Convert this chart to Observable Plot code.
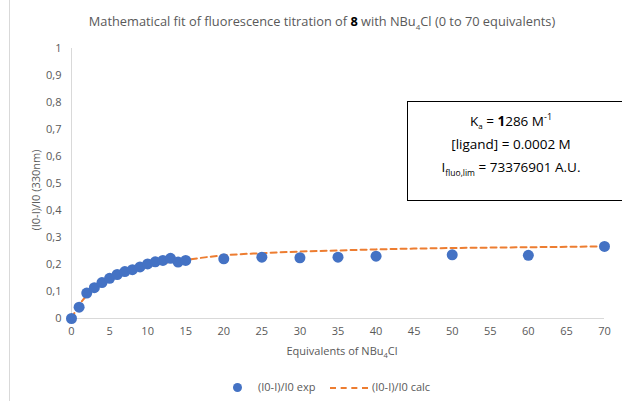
<!DOCTYPE html>
<html><head><meta charset="utf-8">
<script src="https://cdn.jsdelivr.net/npm/d3@7"></script>
<script src="https://cdn.jsdelivr.net/npm/@observablehq/plot@0.6"></script>
<style>
body{margin:0;background:#fff;font-family:"Open Sans",sans-serif;}
#wrap{position:relative;width:622px;height:401px;overflow:hidden;}
.t{position:absolute;color:#595959;white-space:nowrap;}
</style></head><body>
<div id="wrap"></div>
<script>
const equivalents = [0,1,2,3,4,5,6,7,8,9,10,11,12,13,14,15,20,25,30,35,40,50,60,70];
const expValues   = [0,0.042,0.094,0.114,0.133,0.149,0.163,0.174,0.181,0.191,0.202,0.21,0.215,0.223,0.209,0.215,0.221,0.227,0.225,0.227,0.231,0.236,0.234,0.267];
const calcValues  = [0,0.05,0.085,0.11,0.13,0.146,0.158,0.169,0.178,0.186,0.193,0.199,0.204,0.209,0.213,0.217,0.234,0.242,0.248,0.252,0.256,0.261,0.264,0.267];
const xTicks = d3.range(0, 71, 5);
const yTicks = [0,0.1,0.2,0.3,0.4,0.5,0.6,0.7,0.8,0.9,1];

const rows = equivalents.map((x,i)=>({x, exp: expValues[i], calc: calcValues[i]}));
const fmtY = d => (d===0||d===1) ? String(d) : d.toFixed(1).replace(".", ",");

const chart = Plot.plot({
  width: 622, height: 401,
  marginLeft: 71, marginRight: 18, marginTop: 48, marginBottom: 83,
  style: {fontFamily: '"Open Sans",sans-serif', fontSize: "11px", color: "#595959", background: "transparent"},
  x: {domain: [0,70], ticks: xTicks, tickSize: 0, tickPadding: 9, label: null},
  y: {domain: [0,1], ticks: yTicks, tickSize: 0, tickPadding: 10, tickFormat: fmtY, label: null},
  marks: [
    Plot.ruleY([0], {stroke: "#D9D9D9", strokeWidth: 1}),
    Plot.ruleX([0], {stroke: "#D9D9D9", strokeWidth: 1}),
    Plot.line(rows, {x: "x", y: "calc", stroke: "#ED7D31", strokeWidth: 2, strokeDasharray: "6,4", curve: "monotone-x"}),
    Plot.dot(rows, {x: "x", y: "exp", r: 5.5, fill: "#4472C4", stroke: "none"})
  ]
});
chart.style.position = "absolute";
chart.style.left = "0px";
chart.style.top = "0px";
const wrap = document.getElementById("wrap");
wrap.appendChild(chart);

const html = `
<div style="position:absolute;left:9px;top:0;width:1px;height:401px;background:#D9D9D9"></div>
<div class="t" style="left:0;width:644px;top:12px;text-align:center;font-size:12.8px;">Mathematical fit of fluorescence titration of <b style="color:#000">8</b> with NBu<sub style="font-size:8px">4</sub>Cl (0 to 70 equivalents)</div>
<div class="t" style="left:35px;top:190px;font-size:11px;transform:translate(-50%,-50%) rotate(-90deg);">(I0-I)/I0 (330nm)</div>
<div class="t" style="left:0;width:684px;top:343px;text-align:center;font-size:11px;">Equivalents of NBu<sub style="font-size:7.5px">4</sub>Cl</div>
<div style="position:absolute;left:233px;top:383px;width:9px;height:9px;border-radius:50%;background:#4472C4"></div>
<div class="t" style="left:258px;top:379px;font-size:11px;">(I0-I)/I0 exp</div>
<div style="position:absolute;left:330px;top:387px;width:38px;border-top:2px dashed #ED7D31"></div>
<div class="t" style="left:372px;top:379px;font-size:11px;">(I0-I)/I0 calc</div>
<div style="position:absolute;left:407px;top:101px;width:220px;height:98px;border:1.5px solid #000;background:#fff;"></div>
<div class="t" style="left:407px;width:208px;top:110px;text-align:center;font-size:13.5px;color:#000;">K<sub style="font-size:8px">a</sub> = <b>1</b>286 M<sup style="font-size:9px">-1</sup></div>
<div class="t" style="left:407px;width:208px;top:135px;text-align:center;font-size:13.5px;color:#000;">[ligand] = 0.0002 M</div>
<div class="t" style="left:407px;width:208px;top:158px;text-align:center;font-size:13.5px;color:#000;">I<sub style="font-size:8.5px">fluo,lim</sub> = 73376901 A.U.</div>
`;
wrap.insertAdjacentHTML("beforeend", html);
</script>
</body></html>
